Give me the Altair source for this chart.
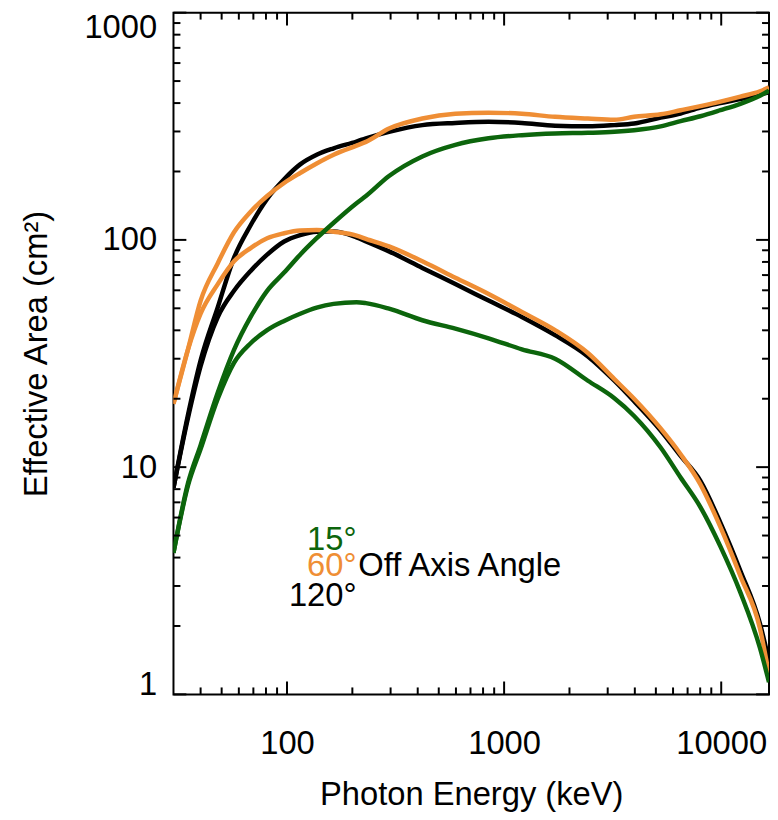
import altair as alt
import pandas as pd

FONT = "Liberation Sans"

energy_keV = [30, 35, 40, 48, 57, 68, 81, 97, 115, 137, 164, 209, 231, 295, 420,
              596, 848, 1207, 1716, 2432, 3220, 3970, 5260, 6500, 8020, 9910,
              12250, 15080, 16600]

area_60_total = [19.0, 33, 54, 79, 108, 133, 156, 178, 197, 217, 237, 260, 270, 309, 342,
                 359, 363, 359, 348, 342, 338, 348, 357, 372, 388, 406, 427, 451, 469]
area_60_peak = [19.0, 33, 47.4, 63.9, 80.5, 92, 101.7, 107, 110, 110.5, 108.6, 104.5, 101, 93.6, 80.5,
                68.2, 57.8, 48.2, 40.1, 31.8, 24.4, 20.0, 14.8, 11.4, 8.4, 5.46, 3.32, 1.95, 1.22]

area_120_total = [8.1, 17, 29.5, 50.6, 83.4, 116, 151.6, 185, 215, 237, 253, 271, 280, 299, 320,
                  327, 331, 327, 318, 316, 320, 325, 345, 360, 382, 400, 417, 436, 446]
area_120_peak = [8.1, 16.5, 27.8, 45.8, 59.7, 73, 86.1, 98.4, 105, 108.6, 109, 102.5, 98.5, 89, 75.3,
                 63.9, 54.1, 45.8, 38.1, 30.7, 24.0, 19.5, 14.5, 11.2, 8.7, 5.7, 3.5, 2.05, 1.4]

area_15_total = [4.2, 8.5, 12.5, 21.3, 32.8, 45.8, 59.7, 71.8, 86.1, 101.7, 119, 145, 156, 191, 233,
                 262, 280, 289, 294, 296, 299, 304, 316, 333, 350, 372, 397, 431, 453]
area_15_peak = [4.2, 8.3, 12.0, 20, 28.8, 35.1, 40.1, 44, 47.3, 50.3, 52.3, 53.2, 52.7, 49.8, 44.3,
                40.7, 36.9, 33.0, 30.0, 24.0, 20.1, 16.8, 12.2, 9.0, 6.67, 4.48, 2.81, 1.6, 1.13]

x_major = [100, 1000, 10000]
x_minor = [40, 50, 60, 70, 80, 90, 200, 300, 400, 500, 600, 700, 800, 900,
           2000, 3000, 4000, 5000, 6000, 7000, 8000, 9000]
y_major = [1, 10, 100, 1000]
y_minor = [2, 3, 4, 5, 6, 7, 8, 9, 20, 30, 40, 50, 60, 70, 80, 90,
           200, 300, 400, 500, 600, 700, 800, 900]

legend_labels = ["15°", "60°", "120°"]
legend_colors = ["#0C650C", "#EF8E35", "#000000"]
legend_area = [4.33, 3.31, 2.45]
legend_energy = [209, 209, 209]
title_label = ["Off Axis Angle"]
title_energy = [213]
title_area = [3.31]

rows = []
for angle, kind, vals in [("120°", "total", area_120_total), ("120°", "peak", area_120_peak),
                          ("60°", "total", area_60_total), ("60°", "peak", area_60_peak),
                          ("15°", "total", area_15_total), ("15°", "peak", area_15_peak)]:
    for e, a in zip(energy_keV, vals):
        rows.append({"E": e, "A": a, "angle": angle, "kind": kind})
df = pd.DataFrame(rows)

W, H = 601, 688
xscale = alt.Scale(type="log", domain=[30, 16600], nice=False)
yscale = alt.Scale(type="log", domain=[1, 1000], nice=False)

xaxis = alt.Axis(values=x_major, format="d", ticks=False, tickSize=0, domain=False, grid=False,
                 labelFont=FONT, labelFontSize=33, labelColor="black", labelPadding=34,
                 labelFlush=False, labelOverlap=False,
                 title="Photon Energy (keV)", titleFont=FONT, titleFontSize=33,
                 titleFontWeight="normal", titleColor="black",
                 titleX=W / 2, titleY=111, titleBaseline="alphabetic", titleAlign="center")
yaxis = alt.Axis(values=y_major, format="d", ticks=False, tickSize=0, domain=False, grid=False,
                 labelFont=FONT, labelFontSize=33, labelColor="black", labelPadding=17,
                 labelBaseline="middle", labelAlign="right", labelFlush=False, labelOverlap=False,
                 labelOffset={"condition": [{"test": "datum.value >= 999", "value": 15},
                                            {"test": "datum.value <= 1.001", "value": -10}],
                              "value": 0},
                 title="Effective Area (cm²)", titleFont=FONT, titleFontSize=33,
                 titleFontWeight="normal", titleColor="black", titleAngle=270,
                 titleX=-128, titleY=H / 2, titleBaseline="alphabetic", titleAlign="center")

colors = {"15°": "#0C650C", "60°": "#EF8E35", "120°": "#000000"}

layers = []
for angle in ["120°", "60°", "15°"]:
    layers.append(
        alt.Chart(df).transform_filter(alt.datum.angle == angle)
        .mark_line(strokeWidth=4.5, color=colors[angle], clip=True, strokeJoin="round",
                   interpolate="monotone")
        .encode(
            x=alt.X("E:Q", scale=xscale, axis=xaxis),
            y=alt.Y("A:Q", scale=yscale, axis=yaxis),
            detail="kind:N",
        )
    )


def xticks(vals, length, top):
    d = pd.DataFrame({"E": vals})
    if top:
        yv, y2v = alt.value(0), alt.value(length)
    else:
        yv, y2v = alt.value(H), alt.value(H - length)
    return alt.Chart(d).mark_rule(color="black", strokeWidth=2).encode(
        x=alt.X("E:Q", scale=xscale, axis=xaxis), y=yv, y2=y2v)


def yticks(vals, length, right):
    d = pd.DataFrame({"A": vals})
    if right:
        xv, x2v = alt.value(W), alt.value(W - length)
    else:
        xv, x2v = alt.value(0), alt.value(length)
    return alt.Chart(d).mark_rule(color="black", strokeWidth=2).encode(
        y=alt.Y("A:Q", scale=yscale, axis=yaxis), x=xv, x2=x2v)


MAJ, MIN = 13, 7
for top in (False, True):
    layers.append(xticks(x_major, MAJ, top))
    layers.append(xticks(x_minor, MIN, top))
for right in (False, True):
    layers.append(yticks(y_major, MAJ, right))
    layers.append(yticks(y_minor, MIN, right))

leg_df = pd.DataFrame({"label": legend_labels, "c": legend_colors,
                       "E": legend_energy, "A": legend_area})
layers.append(
    alt.Chart(leg_df).mark_text(align="right", baseline="alphabetic", font=FONT, fontSize=33)
    .encode(x=alt.X("E:Q", scale=xscale, axis=xaxis), y=alt.Y("A:Q", scale=yscale, axis=yaxis),
            text="label:N", color=alt.Color("c:N", scale=None))
)
ttl_df = pd.DataFrame({"label": title_label, "E": title_energy, "A": title_area})
layers.append(
    alt.Chart(ttl_df).mark_text(align="left", baseline="alphabetic", font=FONT, fontSize=33,
                                color="black")
    .encode(x=alt.X("E:Q", scale=xscale, axis=xaxis), y=alt.Y("A:Q", scale=yscale, axis=yaxis),
            text="label:N")
)

chart = alt.layer(*layers).properties(
    width=W, height=H,
    padding={"left": 167, "top": 1, "right": 1, "bottom": 115},
    autosize=alt.AutoSizeParams(type="none"),
    background="white",
).configure_view(stroke="black", strokeWidth=2)

chart.save("out.html", embed_options={"renderer": "svg", "actions": False})
